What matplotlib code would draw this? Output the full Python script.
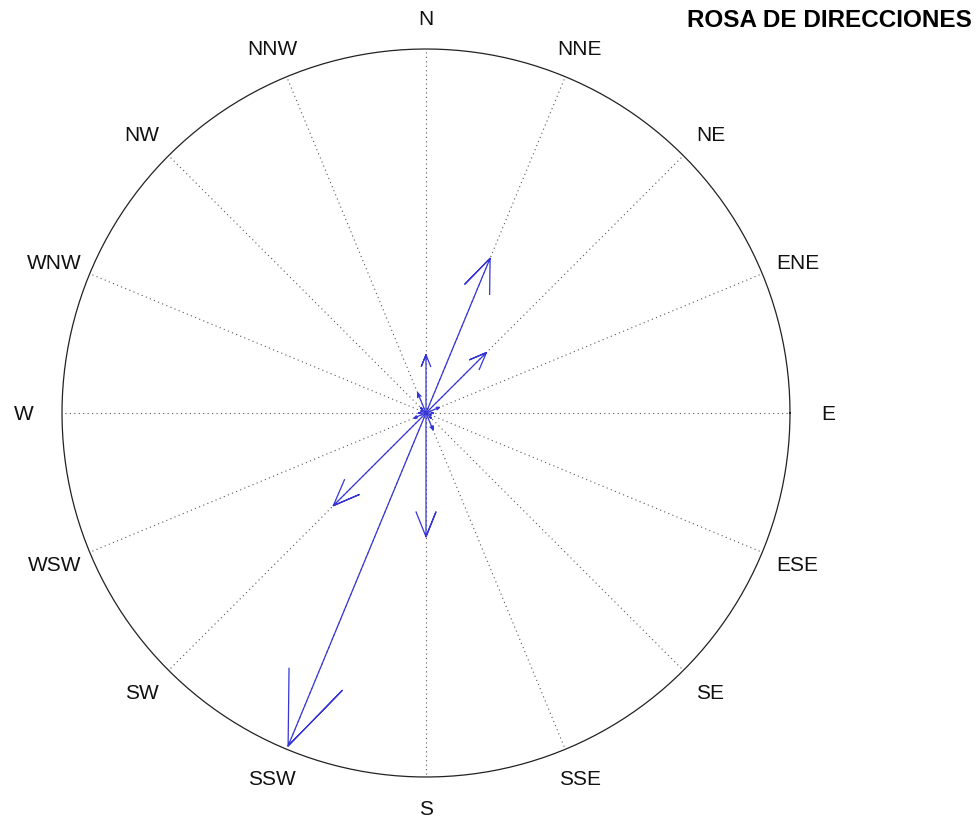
import numpy as np
import matplotlib.pyplot as plt

# 16 compass sectors, angle measured clockwise from north
directions = ['N', 'NNE', 'NE', 'ENE', 'E', 'ESE', 'SE', 'SSE',
              'S', 'SSW', 'SW', 'WSW', 'W', 'WNW', 'NW', 'NNW']
angles_deg = [0, 22.5, 45, 67.5, 90, 112.5, 135, 157.5,
              180, 202.5, 225, 247.5, 270, 292.5, 315, 337.5]
# arrow lengths relative to the outer circle
magnitudes = [0.16, 0.46, 0.235, 0.04, 0.02, 0.015, 0.02, 0.05,
              0.34, 0.99, 0.36, 0.035, 0.02, 0.015, 0.02, 0.06]
title = "ROSA DE DIRECCIONES"

W, H = 979, 819
cx, cy, R = 426, 413, 364   # centre and radius in pixels

fig = plt.figure(figsize=(W / 100, H / 100), dpi=100)
ax = fig.add_axes([0, 0, 1, 1])
ax.set_xlim(-cx / R, (W - cx) / R)
ax.set_ylim(-(H - cy) / R, cy / R)
ax.axis('off')

# outer circle
t = np.linspace(0, 2 * np.pi, 400)
ax.plot(np.cos(t), np.sin(t), color='#222222', lw=0.9)

# dotted spokes and labels
for name, a in zip(directions, angles_deg):
    th = np.deg2rad(a)
    ax.plot([0, np.sin(th)], [0, np.cos(th)], color='#555555', lw=0.8,
            linestyle=(0, (1, 3)))
    ax.text(1.105 * np.sin(th), 1.085 * np.cos(th) - 0.004, name,
            ha='center', va='center', fontsize=15,
            family='Liberation Sans', color='#111111')

# compass-style arrows
head = np.array([0, 1, 0.8 + 0.08j, 1, 0.8 - 0.08j])
for a, r in zip(angles_deg, magnitudes):
    th = np.deg2rad(a)
    z = r * (np.sin(th) + 1j * np.cos(th))
    pts = head * z
    ax.plot(pts.real, pts.imag, color='#3535d8', lw=0.9)

fig.text(0.993, 0.975, title, ha='right', va='center', fontsize=17.5,
         fontweight='bold', family='Liberation Sans')

fig.savefig('out.png', dpi=100, facecolor='white')
